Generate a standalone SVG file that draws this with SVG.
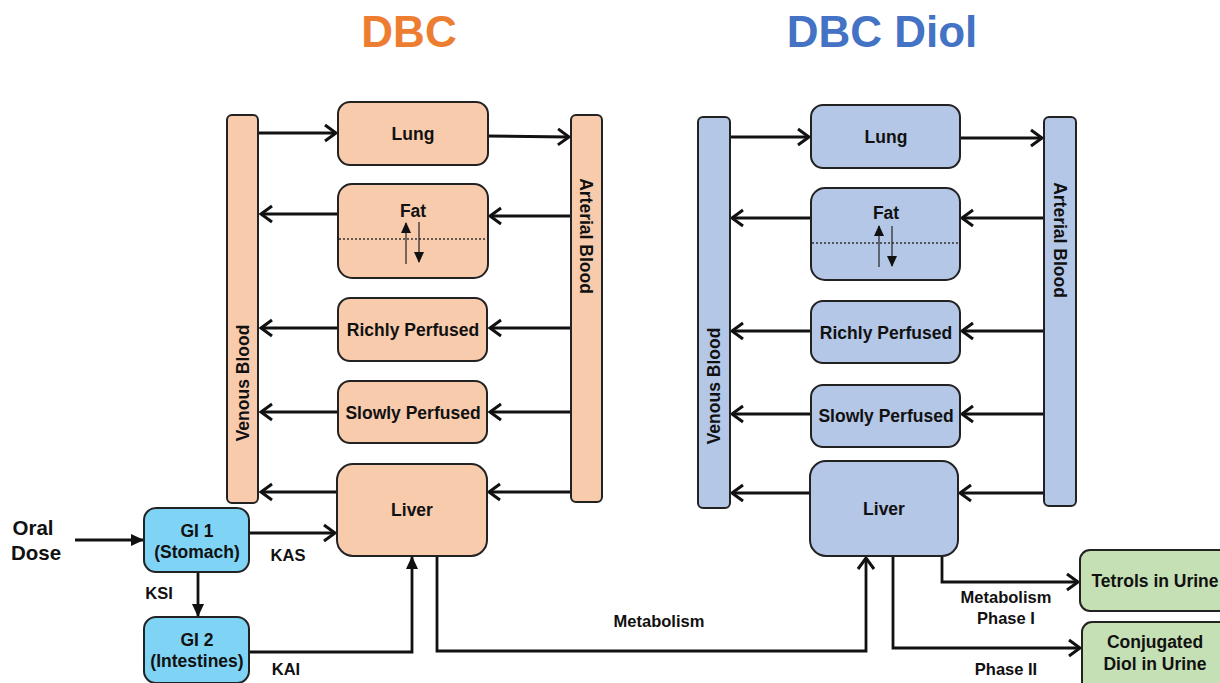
<svg xmlns="http://www.w3.org/2000/svg" width="1220" height="683" viewBox="0 0 1220 683">
<defs>
<marker id="chev" markerUnits="userSpaceOnUse" markerWidth="16" markerHeight="20" refX="13" refY="10" orient="auto">
<path d="M2,2 L13,10 L2,18" fill="none" stroke="#111" stroke-width="3" stroke-linejoin="miter"/>
</marker>
<marker id="tri" markerUnits="userSpaceOnUse" markerWidth="14" markerHeight="14" refX="12" refY="7" orient="auto">
<path d="M0,1 L13,7 L0,13 z" fill="#111"/>
</marker>
<marker id="small" markerUnits="userSpaceOnUse" markerWidth="12" markerHeight="12" refX="10" refY="6" orient="auto">
<path d="M0,1 L11,6 L0,11 z" fill="#111"/>
</marker>
</defs>
<style>
text{font-family:"Liberation Sans",Arial,sans-serif;font-weight:bold;fill:#111;text-anchor:middle}
.box{stroke:#222;stroke-width:2}
.dbc{fill:#F8CBAD}
.diol{fill:#B4C7E7}
.gi{fill:#7FD4F6}
.urine{fill:#C5E0B4}
.lbl{font-size:17.5px}
.sm{font-size:16.5px}
.c{fill:none;stroke:#111;stroke-width:2.8}
.ca{marker-end:url(#chev)}
.ta{marker-end:url(#tri)}
.thin{fill:none;stroke:#222;stroke-width:1.2}
.dot{stroke:#333;stroke-width:1.3;stroke-dasharray:2 2}
</style>
<rect width="1220" height="683" fill="#fff"/>
<text x="409" y="47" style="font-size:44px;fill:#ED7D31">DBC</text>
<text x="882" y="47" style="font-size:44px;fill:#4472C4">DBC Diol</text>

<g id="connectors">
<line class="c ca" x1="259" y1="133" x2="336" y2="133"/>
<line class="c ca" x1="488" y1="136" x2="569" y2="137"/>
<line class="c ca" x1="571" y1="216" x2="490" y2="216"/>
<line class="c ca" x1="338" y1="214" x2="261" y2="214"/>
<line class="c ca" x1="571" y1="328" x2="490" y2="328"/>
<line class="c ca" x1="338" y1="328" x2="261" y2="328"/>
<line class="c ca" x1="571" y1="412" x2="490" y2="412"/>
<line class="c ca" x1="338" y1="412" x2="261" y2="412"/>
<line class="c ca" x1="571" y1="492" x2="489" y2="492"/>
<line class="c ca" x1="337" y1="492" x2="261" y2="492"/>
<line class="c ta" x1="75" y1="540" x2="143" y2="540"/>
<line class="c ca" x1="249" y1="533" x2="335" y2="533"/>
<line class="c ta" x1="198" y1="573" x2="198" y2="616"/>
<polyline class="c ta" points="249,652 412,652 412,557"/>
<polyline class="c ca" points="437,556 437,651 866,651 866,558"/>
<line class="c ca" x1="730" y1="137" x2="809" y2="137"/>
<line class="c ca" x1="960" y1="138" x2="1042" y2="138"/>
<line class="c ca" x1="1044" y1="218" x2="962" y2="218"/>
<line class="c ca" x1="811" y1="218" x2="732" y2="218"/>
<line class="c ca" x1="1044" y1="331" x2="962" y2="331"/>
<line class="c ca" x1="811" y1="331" x2="732" y2="331"/>
<line class="c ca" x1="1044" y1="414" x2="962" y2="414"/>
<line class="c ca" x1="811" y1="414" x2="732" y2="414"/>
<line class="c ca" x1="1044" y1="493" x2="960" y2="493"/>
<line class="c ca" x1="810" y1="493" x2="732" y2="493"/>
<polyline class="c ca" points="942,556 942,582 1078,582"/>
<polyline class="c ca" points="893,556 893,648 1080,648"/>
</g>

<g id="dbc-venous"><rect class="box dbc" x="227" y="115" width="31" height="388" rx="5"/>
<text class="lbl" transform="translate(249,383) rotate(-90)">Venous Blood</text></g>
<g id="dbc-arterial"><rect class="box dbc" x="571" y="115" width="31" height="387" rx="5"/>
<text class="lbl" transform="translate(580,236) rotate(90)">Arterial Blood</text></g>
<g id="dbc-lung"><rect class="box dbc" x="338" y="102" width="150" height="63" rx="12"/>
<text class="lbl" x="413" y="140">Lung</text></g>
<g id="dbc-fat"><rect class="box dbc" x="338" y="184" width="150" height="94" rx="14"/>
<line class="dot" x1="339" y1="239" x2="487" y2="239"/>
<line class="thin" x1="406" y1="264" x2="406" y2="223" marker-end="url(#small)"/>
<line class="thin" x1="419" y1="222" x2="419" y2="262" marker-end="url(#small)"/>
<text class="lbl" x="413" y="217">Fat</text></g>
<g id="dbc-richly"><rect class="box dbc" x="338" y="298" width="149" height="63" rx="12"/>
<text class="lbl" x="413" y="336">Richly Perfused</text></g>
<g id="dbc-slowly"><rect class="box dbc" x="338" y="381" width="149" height="62" rx="12"/>
<text class="lbl" x="413" y="419">Slowly Perfused</text></g>
<g id="dbc-liver"><rect class="box dbc" x="337" y="464" width="150" height="92" rx="16"/>
<text class="lbl" x="412" y="516">Liver</text></g>

<g id="oral-dose"><text x="33" y="535" style="font-size:20.5px">Oral</text><text x="36" y="560" style="font-size:20.5px">Dose</text></g>
<g id="gi1"><rect class="box gi" x="144" y="508" width="105" height="64" rx="12"/>
<text class="lbl" x="197" y="537">GI 1</text><text class="lbl" x="197" y="558">(Stomach)</text></g>
<g id="gi2"><rect class="box gi" x="144" y="617" width="105" height="66" rx="12"/>
<text class="lbl" x="197" y="646">GI 2</text><text class="lbl" x="197" y="667">(Intestines)</text></g>
<text class="sm" x="288" y="561">KAS</text>
<text class="sm" x="159" y="599">KSI</text>
<text class="sm" x="286" y="675">KAI</text>
<text class="sm" x="659" y="627">Metabolism</text>

<g id="diol-venous"><rect class="box diol" x="698" y="117" width="32" height="391" rx="5"/>
<text class="lbl" transform="translate(720,386) rotate(-90)">Venous Blood</text></g>
<g id="diol-arterial"><rect class="box diol" x="1044" y="117" width="32" height="389" rx="5"/>
<text class="lbl" transform="translate(1054,240) rotate(90)">Arterial Blood</text></g>
<g id="diol-lung"><rect class="box diol" x="811" y="105" width="149" height="63" rx="12"/>
<text class="lbl" x="886" y="143">Lung</text></g>
<g id="diol-fat"><rect class="box diol" x="811" y="188" width="149" height="92" rx="14"/>
<line class="dot" x1="812" y1="243" x2="959" y2="243"/>
<line class="thin" x1="879" y1="267" x2="879" y2="226" marker-end="url(#small)"/>
<line class="thin" x1="892" y1="226" x2="892" y2="266" marker-end="url(#small)"/>
<text class="lbl" x="886" y="219">Fat</text></g>
<g id="diol-richly"><rect class="box diol" x="811" y="301" width="149" height="62" rx="12"/>
<text class="lbl" x="886" y="339">Richly Perfused</text></g>
<g id="diol-slowly"><rect class="box diol" x="811" y="385" width="149" height="62" rx="12"/>
<text class="lbl" x="886" y="422">Slowly Perfused</text></g>
<g id="diol-liver"><rect class="box diol" x="810" y="461" width="148" height="95" rx="16"/>
<text class="lbl" x="884" y="515">Liver</text></g>

<g id="tetrols"><rect class="box urine" x="1080" y="550" width="160" height="61" rx="10"/>
<text class="lbl" x="1155" y="587">Tetrols in Urine</text></g>
<g id="conjugated"><rect class="box urine" x="1082" y="622" width="160" height="70" rx="10"/>
<text class="lbl" x="1155" y="648">Conjugated</text><text class="lbl" x="1155" y="670">Diol in Urine</text></g>
<text class="sm" x="1006" y="603">Metabolism</text>
<text class="sm" x="1006" y="624">Phase I</text>
<text class="sm" x="1006" y="675">Phase II</text>
</svg>
